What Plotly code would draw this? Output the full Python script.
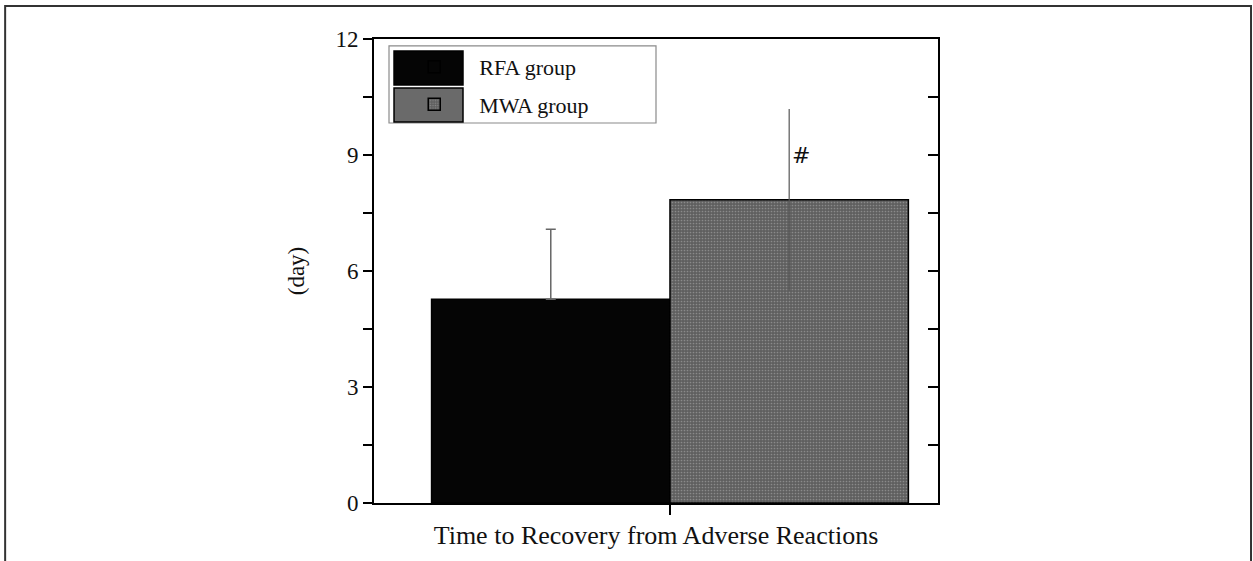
import plotly.graph_objects as go

category = ["Time to Recovery from Adverse Reactions"]
groups = ["RFA group", "MWA group"]
means = [5.27, 7.84]
sd_plus = [1.81, 2.35]
sd_minus = [0.0, 2.35]
y_ticks = [0, 3, 6, 9, 12]

FONT = "Liberation Serif, Times New Roman, serif"
RFA_COLOR = "#050505"
MWA_COLOR = "#5f5f5f"

fig = go.Figure()
fig.add_trace(go.Bar(
    name=groups[0], x=category, y=[means[0]], legendgroup="a",
    marker=dict(color=RFA_COLOR, line=dict(color="#000000", width=1.5)),
    error_y=dict(type="data", array=[sd_plus[0]], arrayminus=[sd_minus[0]],
                 symmetric=False, color="#666666", thickness=1.5, width=5),
))
fig.add_trace(go.Bar(
    name=groups[1], x=category, y=[means[1]], legendgroup="b",
    marker=dict(color=MWA_COLOR, line=dict(color="#000000", width=1.5),
                pattern=dict(shape=".", fillmode="overlay", fgcolor="#b5b5b5",
                             size=3, solidity=0.25)),
    error_y=dict(type="data", array=[sd_plus[1]], arrayminus=[sd_minus[1]],
                 symmetric=False, color="#555555", thickness=1.2, width=0),
))
# dummy trace for right axis
fig.add_trace(go.Scatter(x=category, y=[None], yaxis="y2", showlegend=False,
                         hoverinfo="skip"))

fig.update_layout(
    width=1253, height=561,
    margin=dict(l=374, r=315, t=39, b=58),
    paper_bgcolor="white", plot_bgcolor="white",
    barmode="group", bargap=0.2, bargroupgap=0,
    font=dict(family=FONT, color="#111111", size=23),
    showlegend=True,
    legend=dict(x=0.027, y=0.985, xanchor="left", yanchor="top",
                borderwidth=0, bgcolor="rgba(0,0,0,0)",
                font=dict(family=FONT, size=22, color="#111111"),
                itemwidth=80, tracegroupgap=6),
    xaxis=dict(range=[-0.4966, 0.4497], showline=True, linecolor="#000000",
               linewidth=2, mirror=True, ticks="outside", ticklen=10,
               tickwidth=2, tickcolor="#000000", showticklabels=False,
               showgrid=False, zeroline=False,
               title=dict(text="Time to Recovery from Adverse Reactions",
                          font=dict(family=FONT, size=26), standoff=12)),
    yaxis=dict(range=[0, 12], tickvals=y_ticks, showline=True,
               linecolor="#000000", linewidth=2, ticks="outside", ticklen=9,
               tickwidth=2, tickcolor="#000000", showgrid=False,
               zeroline=False, tickfont=dict(family=FONT, size=23),
               minor=dict(dtick=1.5, ticks="outside", ticklen=9, tickwidth=2,
                          tickcolor="#000000", showgrid=False),
               title=dict(text="(day)", font=dict(family=FONT, size=23),
                          standoff=24)),
    yaxis2=dict(range=[0, 12], overlaying="y", side="right", tickvals=y_ticks,
                showline=True, linecolor="#000000", linewidth=2,
                ticks="inside", ticklen=10, tickwidth=2, tickcolor="#000000",
                showticklabels=False, showgrid=False, zeroline=False,
                minor=dict(dtick=1.5, ticks="inside", ticklen=10, tickwidth=2,
                           tickcolor="#000000", showgrid=False)),
)

fig.add_annotation(x=0.2, y=9.0, xref="x", yref="y", text="#",
                   showarrow=False, xshift=12,
                   font=dict(family="DejaVu Sans, Arial, sans-serif", size=22,
                             color="#111111"))

# legend box
fig.add_shape(type="rect", xref="paper", yref="paper",
              x0=0.0266, x1=0.5, y0=0.819, y1=0.985,
              line=dict(color="#8a8a8a", width=1.2), fillcolor="white",
              layer="above")
# large legend swatches (decoration behind the native legend symbols)
fig.add_shape(type="rect", xref="paper", yref="paper",
              x0=0.0355, x1=0.1578, y0=0.9009, y1=0.974,
              line=dict(color="#000000", width=1.5), fillcolor=RFA_COLOR,
              layer="above")
fig.add_shape(type="rect", xref="paper", yref="paper",
              x0=0.0355, x1=0.1578, y0=0.8211, y1=0.8944,
              line=dict(color="#000000", width=1.5), fillcolor="#6a6a6a",
              layer="above")

# outer frame
fig.add_shape(type="rect", xref="paper", yref="paper",
              x0=-0.654, x1=1.555, y0=-0.3, y1=1.071,
              line=dict(color="#333333", width=2), fillcolor="rgba(0,0,0,0)",
              layer="below")

fig.write_html("out.html", config={"displayModeBar": False},
               post_script="document.body.style.margin='0';document.body.style.padding='0';")
